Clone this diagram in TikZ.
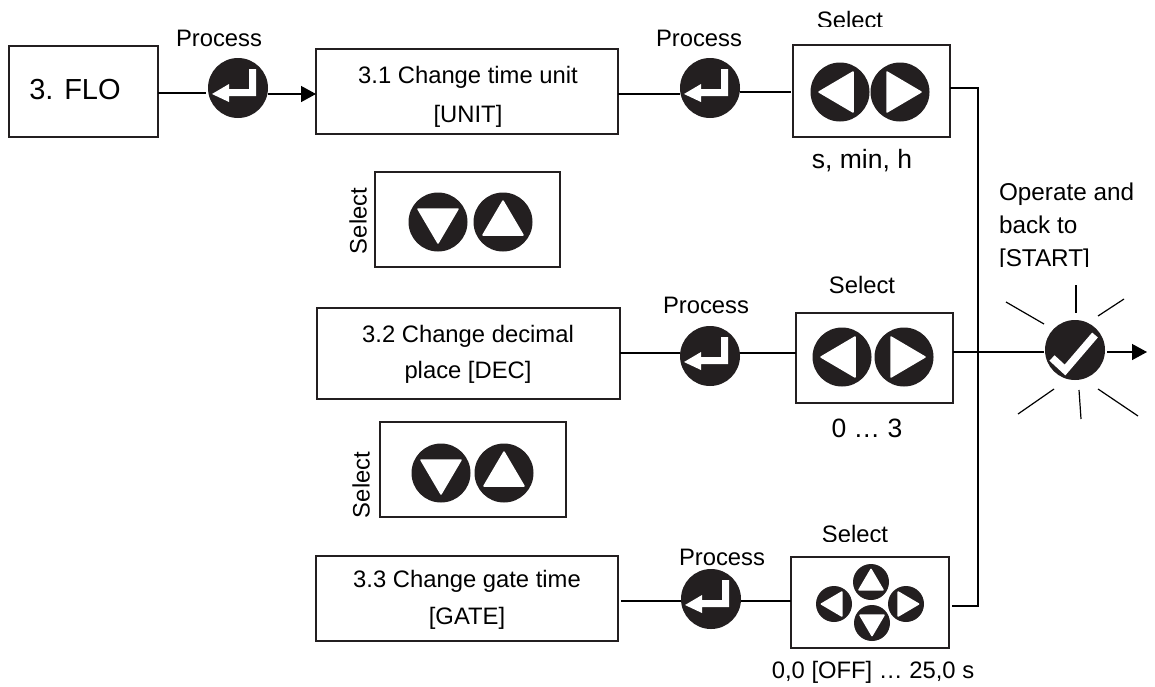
\documentclass[tikz,border=0pt]{standalone}
\usepackage{fontspec}
\setmainfont{Liberation Sans}
\usetikzlibrary{arrows.meta,calc}
\definecolor{ink}{HTML}{231F20}
\tikzset{
  x=1pt,y=-1pt,
  every node/.style={inner sep=0pt,outer sep=0pt,font=\fontsize{23.8}{37}\selectfont,align=center},
  box/.style={draw=ink,line width=1.4pt,anchor=north west},
  btn/.style={circle,fill=ink,minimum size=60pt},
  sbtn/.style={circle,fill=ink,minimum size=59pt},
  tbtn/.style={circle,fill=ink,minimum size=36pt},
  link/.style={draw=black,line width=1.4pt},
  arr/.style={link,-{Triangle[length=15pt,width=16pt]}},
  ray/.style={draw=black,line width=1.2pt},
  icon/.style={fill=white,draw=white,line width=1.5pt,line join=round},
  bigval/.style={font=\fontsize{26.5}{32}\selectfont},
}
\newcommand{\enterbtn}[3]{\node[btn] (#1) at (#2,#3) {};
  \fill[white,shift={(#2,#3)}] (-26,6) -- (-9,-4) -- (-9,1) -- (11,1) -- (11,-19) -- (18,-19) -- (18,8) -- (-9,8) -- (-9,14) -- cycle;}
\newcommand{\tri}[4]{\path[icon,shift={(#1,#2)},rotate=#3,scale=#4] (-21,0) -- (13,-20) -- (13,20) -- cycle;}
\newcommand{\sbutton}[4]{\node[sbtn] (#1) at (#2,#3) {}; \tri{#2}{#3}{#4}{1}}
\newcommand{\tbutton}[4]{\node[tbtn] (#1) at (#2,#3) {}; \tri{#2}{#3}{#4}{0.6}}
\begin{document}
\begin{tikzpicture}
\useasboundingbox (0,0) rectangle (1155,686);
% boxes
\node[box,minimum width=149pt,minimum height=91pt] (flo) at (9,46) {};
\node[font=\fontsize{29}{35}\selectfont] (flot) at (75,90) {3. FLO};
\node[box,minimum width=302pt,minimum height=85pt] (u1) at (316,49) {};
\node[font=\fontsize{23.8}{39.5}\selectfont] (u1t) at (468,97) {3.1 Change time unit\\{[UNIT]}};
\node[box,minimum width=303pt,minimum height=91pt] (u2) at (317,308) {};
\node[font=\fontsize{23.8}{36}\selectfont] (u2t) at (468,354) {3.2 Change decimal\\place [DEC]};
\node[box,minimum width=302pt,minimum height=85pt] (u3) at (316,556) {};
\node (u3t) at (467,600) {3.3 Change gate time\\{[GATE]}};
% selector boxes
\node[box,minimum width=185pt,minimum height=95pt] (s1) at (375,172) {};
\node[box,minimum width=186pt,minimum height=95pt] (s2) at (380,422) {};
\node[box,minimum width=157pt,minimum height=92pt] (b1) at (793,45) {};
\node[box,minimum width=157pt,minimum height=90pt] (b2) at (796,313) {};
\node[box,minimum width=158pt,minimum height=91pt] (b3) at (791,557) {};
% buttons
\enterbtn{e1}{238}{88}
\enterbtn{e2}{710}{88}
\enterbtn{e3}{710}{356}
\enterbtn{e4}{711}{599}
\sbutton{b1l}{840}{92}{0}
\sbutton{b1r}{900}{92}{180}
\sbutton{b2l}{842}{357}{0}
\sbutton{b2r}{904}{357}{180}
\sbutton{s1d}{438}{222}{90}
\sbutton{s1u}{503}{222}{270}
\sbutton{s2d}{441}{473}{90}
\sbutton{s2u}{504}{473}{270}
\tbutton{t1}{871}{582}{270}
\tbutton{t2}{872}{623}{90}
\tbutton{t3}{834}{604}{0}
\tbutton{t4}{906}{604}{180}
\node[btn] (ok) at (1075,350) {};
\draw[white,line width=7.5pt,shift={(ok.center)}] (-23,8) -- (-10,20) -- (20,-15);
% connectors
\coordinate (junA) at (978,88);
\coordinate (junB) at (978,606);
\coordinate (out) at (1147,352);
\coordinate (lvA) at (0,93);
\coordinate (lvB) at (0,94);
\coordinate (lvC) at (0,92);
\coordinate (lvD) at (0,353);
\coordinate (lvE) at (0,352);
\coordinate (lvF) at (0,601);
\draw[link] (flo.east |- lvA) -- ($(e1.west |- lvA)+(-2,0)$);
\draw[arr] (e1.east |- lvB) -- (u1.west |- lvB);
\draw[link] (u1.east |- lvB) -- (e2.west |- lvB);
\draw[link] (e2.east |- lvC) -- ($(b1.west |- lvC)+(-2,0)$);
\draw[link] (b1.east |- junA) -- (junA) -- (junB) -- ($(b3.east |- junB)+(3,0)$);
\draw[link] (u2.east |- lvD) -- (e3.west |- lvD);
\draw[link] (e3.east |- lvD) -- (b2.west |- lvD);
\draw[link] (b2.east |- lvE) -- ($(ok.west |- lvE)+(-1,0)$);
\draw[arr] ($(ok.east |- lvE)+(2,0)$) -- (out);
\draw[link] ($(u3.east |- lvF)+(3,0)$) -- (e4.west |- lvF);
\draw[link] (e4.east |- lvF) -- (b3.west |- lvF);
% rays
\coordinate (r1a) at (1076,285); \coordinate (r1b) at (1076,313);
\coordinate (r2a) at (1006,302); \coordinate (r2b) at (1044,324);
\coordinate (r3a) at (1098,316); \coordinate (r3b) at (1124,299);
\coordinate (r4a) at (1018,414); \coordinate (r4b) at (1054,389);
\coordinate (r5a) at (1079,390); \coordinate (r5b) at (1081,419);
\coordinate (r6a) at (1098,389); \coordinate (r6b) at (1138,416);
\foreach \i in {1,...,6} \draw[ray] (r\i a) -- (r\i b);
% labels
\node (p1) at (219,38) {Process};
\node (p2) at (699,38) {Process};
\node (p3) at (706,305) {Process};
\node (p4) at (722,557) {Process};
\node (l1) at (850,20) {Select};
\node (l2) at (862,285) {Select};
\node (l3) at (855,534) {Select};
\node[rotate=90] (l4) at (358,221) {Select};
\node[rotate=90] (l5) at (361,485) {Select};
\node[bigval] (v1) at (862,161) {s, min, h};
\node[bigval] (v2) at (867,428) {0 … 3};
\node (v3) at (873,672) {0,0 [OFF] … 25,0 s};
\node[align=left,anchor=north west,font=\fontsize{24.3}{33}\selectfont] (op) at (999,183) {Operate and\\back to\\{[START]}};
% cropped text edges as in the picture
\fill[white] (650,46.5) rectangle (750,52);
\fill[white] (800,26.5) rectangle (900,32);
\fill[white] (990,266.5) rectangle (1100,274);
\fill[white] (810,541.5) rectangle (900,547);
\end{tikzpicture}
\end{document}
